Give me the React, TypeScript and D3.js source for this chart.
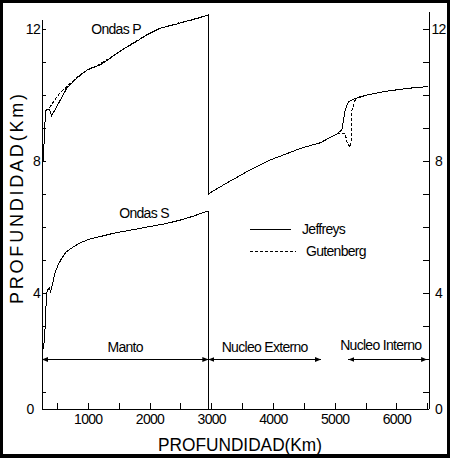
import React from "react";
import * as d3 from "d3";

// ---- data (depth km, velocity) ----
const pJeffreys: [number, number][] = [
  [262, 7.86], [285, 8.6], [306, 9.5], [320, 9.57], [368, 9.58], [407, 9.38],
  [650, 10.21], [838, 10.56], [1000, 10.79], [1190, 10.92], [1352, 11.12],
  [1541, 11.37], [1730, 11.57], [1947, 11.83], [2163, 12.03], [2433, 12.16],
  [2702, 12.3], [2945, 12.43], [2945, 7.0], [3000, 7.08], [3297, 7.4],
  [3621, 7.74], [3945, 8.04], [4270, 8.27], [4432, 8.39], [4756, 8.56],
  [5027, 8.83], [5108, 8.95], [5134, 9.25], [5162, 9.55], [5215, 9.81],
  [5296, 9.88], [5514, 10.01], [5783, 10.11], [6054, 10.18], [6324, 10.24],
  [6512, 10.26],
];
const pGutenberg: [number, number][] = [
  [262, 7.86], [285, 8.6], [306, 9.5], [325, 9.55], [379, 9.65], [514, 10.01],
  [622, 10.21], [838, 10.58], [1000, 10.78], [1100, 10.84], [1190, 10.95],
  [1352, 11.14], [1541, 11.36], [1730, 11.59], [1947, 11.83], [2163, 12.02],
  [2433, 12.18], [2702, 12.29], [2945, 12.43], [2945, 7.0], [3000, 7.08],
  [3297, 7.4], [3621, 7.74], [3945, 8.04], [4270, 8.27], [4432, 8.39],
  [4756, 8.56], [5027, 8.83], [5100, 8.86], [5162, 8.85], [5190, 8.59],
  [5243, 8.42], [5271, 8.75], [5271, 9.55], [5324, 9.86], [5377, 9.94],
  [5514, 10.01], [5783, 10.11], [6054, 10.18], [6324, 10.24], [6512, 10.26],
];
const sJeffreys: [number, number][] = [
  [270, 2.32], [290, 2.59], [306, 3.2], [322, 3.95], [338, 4.1], [368, 4.16],
  [390, 4.05], [428, 4.35], [460, 4.61], [509, 4.86], [569, 5.06], [638, 5.25],
  [757, 5.41], [865, 5.53], [1028, 5.65], [1190, 5.72], [1405, 5.82],
  [1838, 5.97], [2271, 6.12], [2487, 6.22], [2702, 6.34], [2945, 6.5],
];
const boundaryKm = 2945;
const regionNames = ["Manto", "Nucleo Externo", "Nucleo Interno"];
const regionStart = [250, 2945, 5215];
const regionEnd = [2945, 4770, 6490];
const regionValue = 2;
const xDomain = [250, 6520];
const yDomain = [0.5, 12.25];
const xTickLabels = [1000, 2000, 3000, 4000, 5000, 6000];
const xMinorTicks = [500, 1000, 1500, 2000, 2500, 3000, 3500, 4000, 4500, 5000, 5500, 6000, 6500];
const yTickLabels = [0, 4, 8, 12];
const yMinorTicks = [1, 2, 3, 4, 5, 6, 7, 8, 9, 10, 11, 12];
const seriesNames = ["Jeffreys", "Gutenberg"];

const FONT = "'Liberation Sans', Arial, sans-serif";

export default function App() {
  const x = d3.scaleLinear().domain(xDomain).range([42, 429]);
  const y = d3.scaleLinear().domain(yDomain).range([409, 21]);
  const line = d3
    .line<[number, number]>()
    .x((d) => x(d[0]))
    .y((d) => y(d[1]));
  const x0 = x(xDomain[0]);
  const x1 = x(xDomain[1]);
  const yb = y(yDomain[0]);
  const txt = { fontFamily: FONT, fontSize: 14, letterSpacing: -0.7, fill: "#000" } as const;

  return (
    <svg
      width={450}
      height={458}
      style={{ position: "absolute", left: 0, top: 0 }}
    >
      <defs>
        <marker
          id="arr"
          markerUnits="userSpaceOnUse"
          markerWidth={6}
          markerHeight={6}
          refX={6}
          refY={3}
          orient="auto-start-reverse"
        >
          <path d="M0,0.5 L6,3 L0,5.5 z" fill="#000" />
        </marker>
      </defs>
      <rect x={0} y={0} width={450} height={458} fill="#000" />
      <rect x={3} y={3} width={444} height={451} fill="#fff" />

      {/* axes */}
      <g stroke="#000" strokeWidth={1} shapeRendering="crispEdges">
        <line x1={x0} x2={x0} y1={20} y2={yb} />
        <line x1={x1} x2={x1} y1={12} y2={yb} />
        <line x1={x0} x2={x1} y1={yb} y2={yb} />
        {yMinorTicks.map((v) => (
          <g key={v}>
            <line x1={x0} x2={x0 + 4} y1={y(v)} y2={y(v)} />
            <line x1={x1 - 6} x2={x1} y1={y(v)} y2={y(v)} />
          </g>
        ))}
        {xMinorTicks.map((v) => (
          <line key={v} x1={x(v)} x2={x(v)} y1={yb} y2={yb - 6} />
        ))}
      </g>
      {yTickLabels.map((v) => {
        const yy = y(Math.max(v, yDomain[0]));
        const bottom = v < yDomain[0];
        return (
          <g key={v} style={txt}>
            <text x={bottom ? 33.5 : 40} y={yy + 5} textAnchor="end">{v}</text>
            <text x={438.5} y={yy + 5} textAnchor="middle">{v}</text>
          </g>
        );
      })}
      {xTickLabels.map((v) => (
        <text key={v} x={x(v)} y={424} textAnchor="middle" style={txt}>
          {v}
        </text>
      ))}

      {/* boundary */}
      <line
        x1={x(boundaryKm)}
        x2={x(boundaryKm)}
        y1={y(sJeffreys[sJeffreys.length - 1][1])}
        y2={yb}
        stroke="#000"
        strokeWidth={1}
        shapeRendering="crispEdges"
      />

      {/* curves */}
      <g shapeRendering="crispEdges" fill="none" stroke="#000" strokeWidth={1}>
        <path d={line(pGutenberg) || ""} strokeDasharray="3,2" />
        <path d={line(pJeffreys) || ""} />
        <path d={line(sJeffreys) || ""} />
      </g>

      <text x={116} y={34} textAnchor="middle" style={txt}>Ondas P</text>
      <text x={144} y={218} textAnchor="middle" style={txt}>Ondas S</text>

      {/* legend */}
      <g stroke="#000" strokeWidth={1} shapeRendering="crispEdges">
        <line x1={250} x2={291} y1={229.5} y2={229.5} />
        <line x1={250} x2={296} y1={251.5} y2={251.5} strokeDasharray="3,2" />
      </g>
      <text x={302} y={234} style={txt}>{seriesNames[0]}</text>
      <text x={306} y={256} style={txt}>{seriesNames[1]}</text>

      {/* regions */}
      {regionNames.map((name, i) => {
        const ya = Math.round(y(regionValue)) + 0.5;
        return (
          <g key={name}>
            <line
              x1={x(regionStart[i])}
              x2={x(regionEnd[i])}
              y1={ya}
              y2={ya}
              stroke="#000"
              strokeWidth={1}
              shapeRendering="crispEdges"
              markerStart="url(#arr)"
              markerEnd="url(#arr)"
            />
            <text
              x={(x(regionStart[i]) + x(regionEnd[i])) / 2 + (i === 2 ? -7 : 0)}
              y={i === 2 ? 350 : 352}
              textAnchor="middle"
              style={txt}
            >
              {name}
            </text>
          </g>
        );
      })}

      {/* titles */}
      <text
        x={240}
        y={451}
        textAnchor="middle"
        fontFamily={FONT}
        fontSize={18.5}
        textLength={164}
        lengthAdjust="spacingAndGlyphs"
      >
        PROFUNDIDAD(Km)
      </text>
      <text
        transform="translate(23,199) rotate(-90)"
        textAnchor="middle"
        fontFamily={FONT}
        fontSize={18}
        textLength={210}
        lengthAdjust="spacing"
      >
        PROFUNDIDAD(Km)
      </text>
    </svg>
  );
}
